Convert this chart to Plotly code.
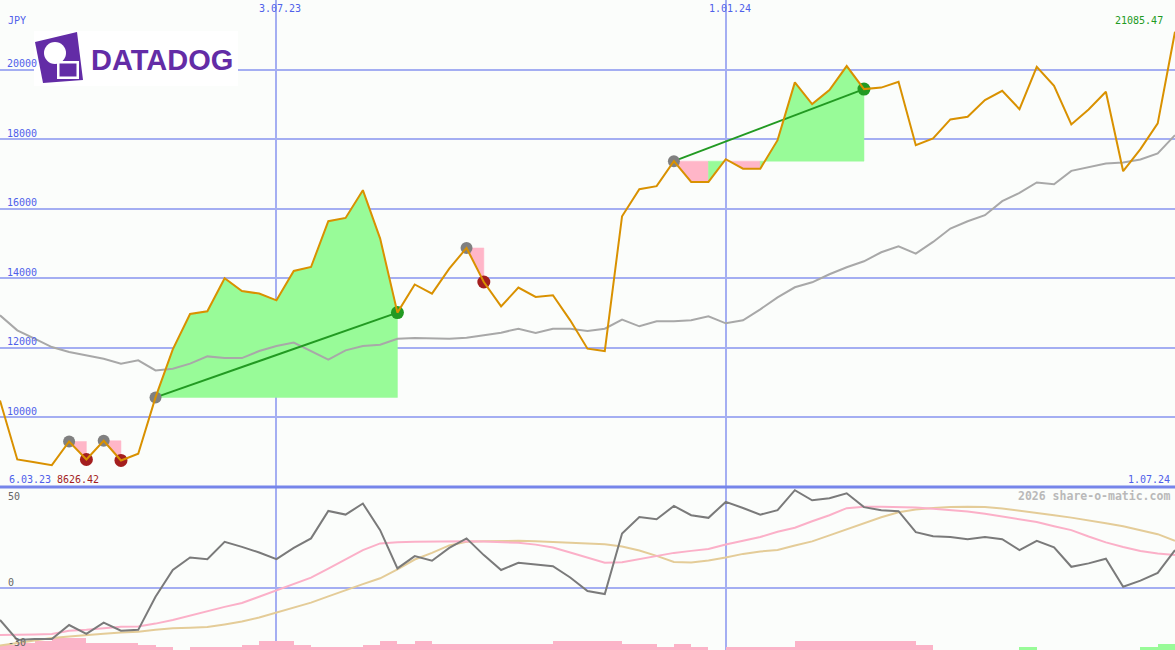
import plotly.graph_objects as go

W, H = 1175, 650

# ---------------- data ----------------
weeks = list(range(69))  # weekly points, 13.03.23 ... 1.07.24
price = [10489, 8791, 8714, 8626.42, 9309, 8791, 9329, 8763, 8955, 10576,
         11957, 12973, 13050, 14000, 13634, 13560, 13367, 14210, 14325, 15640,
         15735, 16532, 15142, 13013, 13822, 13560, 14279, 14872, 13893, 13194,
         13732, 13462, 13511, 12791, 11977, 11908, 15784, 16561, 16648, 17367,
         16771, 16771, 17424, 17151, 17151, 17971, 19632, 19007, 19410, 20101,
         19439, 19482, 19649, 17827, 18020, 18567, 18642, 19122, 19390, 18863,
         20081, 19534, 18423, 18855, 19361, 17079, 17712, 18452, 21085.47]
ma = [12935, 12504, 12265, 12023, 11879, 11784, 11689, 11545, 11640, 11352,
      11401, 11545, 11755, 11706, 11706, 11908, 12052, 12150, 11908, 11660,
      11928, 12052, 12092, 12259, 12282, 12270, 12265, 12293, 12360, 12437,
      12552, 12426, 12552, 12552, 12483, 12552, 12811, 12619, 12763, 12763,
      12791, 12906, 12705, 12791, 13108, 13453, 13741, 13885, 14115, 14317,
      14489, 14748, 14921, 14711, 15045, 15430, 15640, 15813, 16216, 16455,
      16754, 16705, 17088, 17186, 17301, 17329, 17416, 17588, 18115]
osc = [-16, -25.9, -25.5, -25.5, -18.5, -22.9, -17.3, -21.3, -20.9, -4.5,
       8.8, 15, 14.2, 22.8, 20.3, 17.5, 14.2, 19.8, 24.5, 38.1,
       36.3, 41.8, 28.6, 9.6, 15.7, 13.4, 19.8, 24.5, 16.2, 8.8,
       12.4, 11.6, 10.7, 5.1, -1.6, -3.1, 26.9, 35.1, 34, 40.6,
       36, 34.7, 42.6, 39.6, 36.3, 38.5, 48.4, 43.4, 44.4, 46.9,
       40, 38.5, 38, 27.6, 25.6, 25.2, 24.1, 25.2, 24.1, 18.7,
       23.3, 20, 10.4, 12.1, 14.4, 0.5, 3.5, 7.4, 18.7]
sig_fast = [-23.4, -23.4, -23.2, -23, -21.3, -20.8, -20, -19.3, -19.2, -17.8,
            -16, -13.8, -11.5, -9.5, -7.6, -4.5, -1.1, 2, 5, 9.5,
            14.3, 18.7, 22, 22.6, 22.8, 23, 23.1, 23.1, 23, 22.8,
            22.3, 21.4, 20, 17.5, 14.8, 12.4, 12.6, 14.2, 15.5, 17.3,
            18.3, 19.2, 21.5, 23.3, 25.2, 27.8, 29.8, 33, 36, 39.5,
            40.2, 40.2, 40, 39.8, 39.2, 38.5, 37.8, 36.7, 35.4, 33.9,
            32.6, 30.5, 28.6, 25.4, 22.5, 20.2, 18.2, 17, 16.2]
sig_slow = [-28.7, -27.5, -26.3, -25, -24.2, -23.4, -22.8, -22.2, -21.8, -20.8,
            -20.1, -19.8, -19.5, -18.2, -16.8, -14.8, -12.4, -9.9, -7.4, -4.3,
            -1.1, 1.8, 4.7, 9.1, 14, 17.3, 21, 22.8, 23.1, 23.3,
            23.3, 23.1, 22.8, 22.4, 22, 21.6, 20.5, 18.5, 15.8, 12.8,
            12.5, 13.5, 15, 16.8, 18, 18.7, 21, 23, 26, 29,
            32, 35, 37.5, 38.8, 39.6, 40.1, 40.2, 40.1, 39.3, 38.3,
            37.3, 36, 34.8, 33.5, 32, 30.5, 28.6, 26.6, 23.3]
# histogram per weekly interval (negative = pink, positive = green)
hist = [-2.5, -3.5, -4.5, -6, -6, -3.5, -3.5, -3.5, -2.5, -1.5,
        0, -1.5, -1.5, -1.5, -2.5, -4.5, -4.5, -2.5, -1.5, -1.5,
        -1.5, -2.5, -4.5, -3, -4.5, -3, -3, -3, -3, -3,
        -3, -3, -4.5, -4.5, -4.5, -4.5, -3, -3, -1.5, -3,
        -1.5, 0, -1.5, -1.5, -1.5, -1.5, -4.5, -4.5, -4.5, -4.5,
        -4.5, -4.5, -4.5, -2.5, 0, 0, 0, 0, 0, 1.5,
        0, 0, 0, 0, 0, 0, 1.5, 3]
entries = [4, 6, 9, 27, 39]
exits = [5, 7, 23, 28, 50]

y_ticks = [10000, 12000, 14000, 16000, 18000, 20000]
date_grid = [16, 42]
date_grid_labels = ["3.07.23", "1.01.24"]
first_label, min_label = "6.03.23", "8626.42"
last_date_label, last_value_label = "1.07.24", "21085.47"
osc_ticks = [50, 0, -30]

# ---------------- styles ----------------
BG = "#fbfdfb"
GRID = "#a4aef2"
SEP = "#7685ea"
BLUE = "#4f60ea"
ORANGE = "#d99100"
GREEN_FILL = "#98fb98"
PINK_FILL = "#ffb6c8"
MONO = "DejaVu Sans Mono"

SPLIT = 163 / H  # bottom panel height fraction

def PX(x):
    return x / W

def PY(y):
    return 1 - y / H

fig = go.Figure()

# trade fills (top panel): consecutive segments of the same colour merged
for e, x in zip(entries, exits):
    ep = price[e]
    cols = [GREEN_FILL if price[j + 1] >= ep else PINK_FILL for j in range(e, x)]
    start = e
    for k in range(len(cols)):
        j = e + k
        last = (k == len(cols) - 1) or (cols[k + 1] != cols[k])
        if last:
            xs = [weeks[start]] + [weeks[i] for i in range(start, j + 2)] + [weeks[j + 1], weeks[start]]
            ys = [ep] + [price[i] for i in range(start, j + 2)] + [ep, ep]
            fig.add_trace(go.Scatter(
                x=xs, y=ys, fill="toself", fillcolor=cols[k], mode="lines",
                line=dict(width=0.5, color=cols[k]), hoverinfo="skip",
                xaxis="x2", yaxis="y2", showlegend=False))
            start = j + 1

# moving average
fig.add_trace(go.Scatter(x=weeks, y=ma, mode="lines",
                         line=dict(color="#a8a8a8", width=2),
                         xaxis="x2", yaxis="y2", showlegend=False))

# winning trade lines
for e, x in zip(entries, exits):
    if price[x] > price[e]:
        fig.add_trace(go.Scatter(x=[weeks[e], weeks[x]], y=[price[e], price[x]],
                                 mode="lines", line=dict(color="#229a22", width=2),
                                 xaxis="x2", yaxis="y2", showlegend=False))

# markers
fig.add_trace(go.Scatter(x=[weeks[e] for e in entries], y=[price[e] for e in entries],
                         mode="markers", marker=dict(color="#808080", size=12),
                         xaxis="x2", yaxis="y2", showlegend=False))
fig.add_trace(go.Scatter(
    x=[weeks[x] for x in exits], y=[price[x] for x in exits], mode="markers",
    marker=dict(size=13, color=["#229a22" if price[x] > price[e] else "#a41e1e"
                                for e, x in zip(entries, exits)]),
    xaxis="x2", yaxis="y2", showlegend=False))

# price line
fig.add_trace(go.Scatter(x=weeks, y=price, mode="lines",
                         line=dict(color=ORANGE, width=2),
                         xaxis="x2", yaxis="y2", showlegend=False))

# bottom panel histogram
fig.add_trace(go.Bar(x=[k + 0.5 for k in range(len(hist))], y=[abs(v) for v in hist],
                     base=-30.9, width=1,
                     marker=dict(color=["#98fb98" if v > 0 else "#fbb4c8" for v in hist],
                                 line=dict(width=0)),
                     xaxis="x", yaxis="y", showlegend=False))
fig.add_trace(go.Scatter(x=weeks, y=sig_slow, mode="lines",
                         line=dict(color="#e4cc98", width=2),
                         xaxis="x", yaxis="y", showlegend=False))
fig.add_trace(go.Scatter(x=weeks, y=sig_fast, mode="lines",
                         line=dict(color="#fbb0c8", width=2),
                         xaxis="x", yaxis="y", showlegend=False))
fig.add_trace(go.Scatter(x=weeks, y=osc, mode="lines",
                         line=dict(color="#7a7a7a", width=2),
                         xaxis="x", yaxis="y", showlegend=False))

common_x = dict(range=[0, 68], tickvals=date_grid, showticklabels=False,
                showgrid=True, gridcolor=GRID, gridwidth=2, zeroline=False,
                showline=False, ticks="")
fig.update_layout(
    width=W, height=H, margin=dict(l=0, r=0, t=0, b=0),
    paper_bgcolor=BG, plot_bgcolor=BG, bargap=0,
    xaxis=dict(domain=[0, 1], anchor="y", **common_x),
    xaxis2=dict(domain=[0, 1], anchor="y2", **common_x),
    yaxis=dict(domain=[0, SPLIT], range=[-30.9, 50], tickvals=[0],
               showticklabels=False, showgrid=True, gridcolor=GRID, gridwidth=2,
               zeroline=False, ticks=""),
    yaxis2=dict(domain=[SPLIT, 1], range=[8000, 22000], tickvals=y_ticks,
                showticklabels=False, showgrid=True, gridcolor=GRID, gridwidth=2,
                zeroline=False, ticks=""),
)

shapes = [
    dict(type="line", xref="paper", yref="paper", x0=0, x1=1, y0=SPLIT, y1=SPLIT,
         line=dict(color=SEP, width=3), layer="above"),
    # logo backdrop
    dict(type="rect", xref="paper", yref="paper", x0=PX(34), x1=PX(238), y0=PY(86), y1=PY(31),
         fillcolor="white", line=dict(width=0), layer="above"),
    dict(type="path", xref="paper", yref="paper",
         path=f"M {PX(35)},{PY(42)} L {PX(77)},{PY(32)} L {PX(83)},{PY(80)} L {PX(43)},{PY(83)} Z",
         fillcolor="#632ca6", line=dict(width=0), layer="above"),
    dict(type="circle", xref="paper", yref="paper", x0=PX(44), x1=PX(66), y0=PY(64), y1=PY(42),
         fillcolor="white", line=dict(width=0), layer="above"),
    dict(type="rect", xref="paper", yref="paper", x0=PX(57), x1=PX(79), y0=PY(79), y1=PY(61),
         fillcolor="white", line=dict(width=0), layer="above"),
    dict(type="rect", xref="paper", yref="paper", x0=PX(59.5), x1=PX(76.5), y0=PY(76.5), y1=PY(63.5),
         fillcolor="#632ca6", line=dict(width=0), layer="above"),
]
fig.update_layout(shapes=shapes)

ann = []
def text(x, y, s, color, anchor="left", size=10, family=MONO):
    ann.append(dict(xref="paper", yref="paper", x=PX(x), y=PY(y), text=s,
                    showarrow=False, xanchor=anchor, yanchor="middle",
                    font=dict(family=family, size=size, color=color)))

text(6, 21, "JPY", BLUE)
for v in y_ticks:
    ypix = (22000 - v) / 14000 * 487
    text(5, ypix - 6, str(v), BLUE)
for gx, lab in zip(date_grid, date_grid_labels):
    text(gx / 68 * W + 4, 9, lab, BLUE, anchor="center")
text(1165, 21, last_value_label, "#229a22", anchor="right")
text(7, 479.5, first_label, BLUE)
text(55, 479.5, min_label, "#a41e1e")
text(1172, 479.5, last_date_label, BLUE, anchor="right")
text(1172, 496, "<b>2026 share-o-matic.com</b>", "#b9b9b9", anchor="right", size=11.5)
for v, yp in zip(osc_ticks, [496, 582, 642.5]):
    text(6, yp, str(v), "#666666")
text(89, 60, "<b>DATADOG</b>", "#632ca6", size=29, family="Liberation Sans")
fig.update_layout(annotations=ann)

fig.write_html("out.html", config={"displayModeBar": False},
               post_script="document.body.style.margin='0';document.body.style.overflow='hidden';")
